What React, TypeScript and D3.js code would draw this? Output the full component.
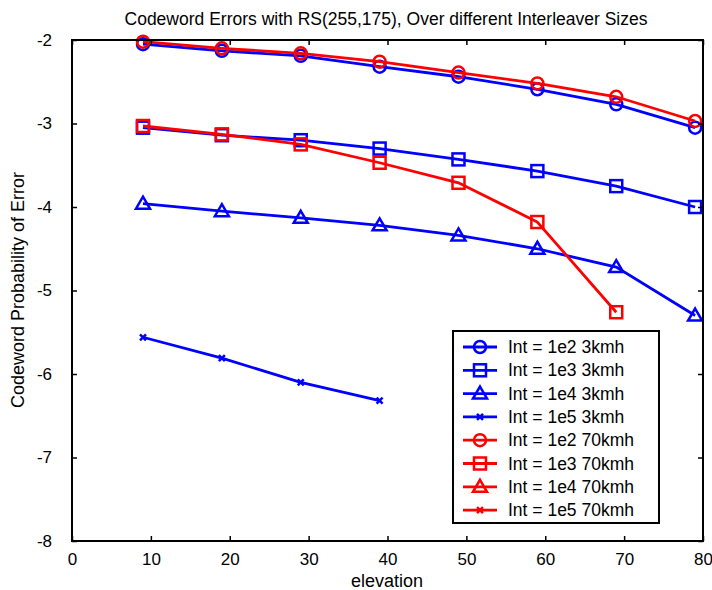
import React, { useEffect, useRef } from 'react';
import * as d3 from 'd3';

const elevation = [9, 19, 29, 39, 49, 59, 69, 79];
const circle3 = [-2.05, -2.13, -2.19, -2.32, -2.44, -2.59, -2.77, -3.05];
const square3 = [-3.05, -3.14, -3.2, -3.3, -3.43, -3.57, -3.75, -4.0];
const triangle3 = [-3.96, -4.05, -4.13, -4.22, -4.34, -4.5, -4.72, -5.3];
const cross3 = [-5.56, -5.81, -6.1, -6.32];
const circle70 = [-2.02, -2.1, -2.16, -2.26, -2.39, -2.52, -2.68, -2.97];
const square70 = [-3.03, -3.13, -3.25, -3.47, -3.71, -4.18, -5.26];
const triangle70: number[] = [];
const cross70: number[] = [];

const xTicks = [0, 10, 20, 30, 40, 50, 60, 70, 80];
const yTicks = [-8, -7, -6, -5, -4, -3, -2];

const series = [
  { name: 'Int = 1e2 3kmh', values: circle3, color: '#0000ff', marker: 'circle' },
  { name: 'Int = 1e3 3kmh', values: square3, color: '#0000ff', marker: 'square' },
  { name: 'Int = 1e4 3kmh', values: triangle3, color: '#0000ff', marker: 'triangle' },
  { name: 'Int = 1e5 3kmh', values: cross3, color: '#0000ff', marker: 'cross' },
  { name: 'Int = 1e2 70kmh', values: circle70, color: '#ff0000', marker: 'circle' },
  { name: 'Int = 1e3 70kmh', values: square70, color: '#ff0000', marker: 'square' },
  { name: 'Int = 1e4 70kmh', values: triangle70, color: '#ff0000', marker: 'triangle' },
  { name: 'Int = 1e5 70kmh', values: cross70, color: '#ff0000', marker: 'cross' },
];

function drawMarker(g: any, type: string, x: number, y: number, color: string) {
  if (type === 'circle') {
    g.append('circle').attr('cx', x).attr('cy', y).attr('r', 6)
      .attr('fill', 'none').attr('stroke', color).attr('stroke-width', 2.5);
  } else if (type === 'square') {
    g.append('rect').attr('x', x - 6).attr('y', y - 6).attr('width', 12).attr('height', 12)
      .attr('fill', 'none').attr('stroke', color).attr('stroke-width', 2.5);
  } else if (type === 'triangle') {
    g.append('path').attr('d', `M${x},${y - 7}L${x + 7},${y + 5}L${x - 7},${y + 5}Z`)
      .attr('fill', 'none').attr('stroke', color).attr('stroke-width', 2.5);
  } else {
    g.append('path').attr('d', `M${x - 3},${y - 3}L${x + 3},${y + 3}M${x - 3},${y + 3}L${x + 3},${y - 3}`)
      .attr('fill', 'none').attr('stroke', color).attr('stroke-width', 2.5);
  }
}

export default function App() {
  const ref = useRef<SVGSVGElement>(null);

  useEffect(() => {
    const svg = d3.select(ref.current);
    svg.selectAll('*').remove();
    const left = 72, right = 703, top = 40, bottom = 541;
    const x = d3.scaleLinear().domain([0, 80]).range([left, right]);
    const y = d3.scaleLinear().domain([-8, -2]).range([bottom, top]);
    const font = 'Liberation Sans, Arial, sans-serif';

    svg.append('rect').attr('width', 712).attr('height', 590).attr('fill', '#fff');

    const plot = svg.append('g');
    const line = d3.line<number>().x((d, i) => x(elevation[i])).y(d => y(d));
    series.forEach(s => {
      if (!s.values.length) return;
      plot.append('path').datum(s.values).attr('d', line)
        .attr('fill', 'none').attr('stroke', s.color).attr('stroke-width', 2.8);
      s.values.forEach((v, i) => drawMarker(plot, s.marker, x(elevation[i]), y(v), s.color));
    });

    // axes box
    svg.append('rect').attr('x', left).attr('y', top).attr('width', right - left).attr('height', bottom - top)
      .attr('fill', 'none').attr('stroke', '#000').attr('stroke-width', 2);

    const bottomAxis = d3.axisBottom(x).tickValues(xTicks).tickSize(-5).tickPadding(12);
    const topAxis = d3.axisTop(x).tickValues(xTicks).tickSize(-5).tickFormat(() => '');
    const leftAxis = d3.axisLeft(y).tickValues(yTicks).tickSize(-5).tickPadding(20).tickFormat(d => String(d));
    const rightAxis = d3.axisRight(y).tickValues(yTicks).tickSize(-5).tickFormat(() => '');

    const axes = [
      svg.append('g').attr('transform', `translate(0,${bottom})`).call(bottomAxis),
      svg.append('g').attr('transform', `translate(0,${top})`).call(topAxis),
      svg.append('g').attr('transform', `translate(${left},0)`).call(leftAxis),
      svg.append('g').attr('transform', `translate(${right},0)`).call(rightAxis),
    ];
    axes.forEach(a => {
      a.select('.domain').remove();
      a.selectAll('line').attr('stroke', '#000').attr('stroke-width', 1.5);
      a.selectAll('text').attr('font-family', font).attr('font-size', 17).attr('fill', '#000');
    });

    svg.append('text').attr('x', 386).attr('y', 25).attr('text-anchor', 'middle')
      .attr('font-family', font).attr('font-size', 17.5).text('Codeword Errors with RS(255,175), Over different Interleaver Sizes');
    svg.append('text').attr('x', 387).attr('y', 587).attr('text-anchor', 'middle')
      .attr('font-family', font).attr('font-size', 18).text('elevation');
    svg.append('text').attr('transform', 'translate(24,290) rotate(-90)').attr('text-anchor', 'middle')
      .attr('font-family', font).attr('font-size', 18).text('Codeword Probability of Error');

    // legend
    const lg = svg.append('g');
    lg.append('rect').attr('x', 453).attr('y', 331).attr('width', 206).attr('height', 192)
      .attr('fill', '#fff').attr('stroke', '#000').attr('stroke-width', 2);
    series.forEach((s, i) => {
      const ly = 347 + i * 23.3;
      lg.append('line').attr('x1', 463).attr('x2', 497).attr('y1', ly).attr('y2', ly)
        .attr('stroke', s.color).attr('stroke-width', 2.8);
      drawMarker(lg, s.marker, 480, ly, s.color);
      lg.append('text').attr('x', 508).attr('y', ly + 6).attr('font-family', font).attr('font-size', 17.5)
        .text(s.name);
    });
  }, []);

  return <svg ref={ref} width={712} height={590} style={{ position: 'fixed', left: 0, top: 0, display: 'block' }} />;
}
